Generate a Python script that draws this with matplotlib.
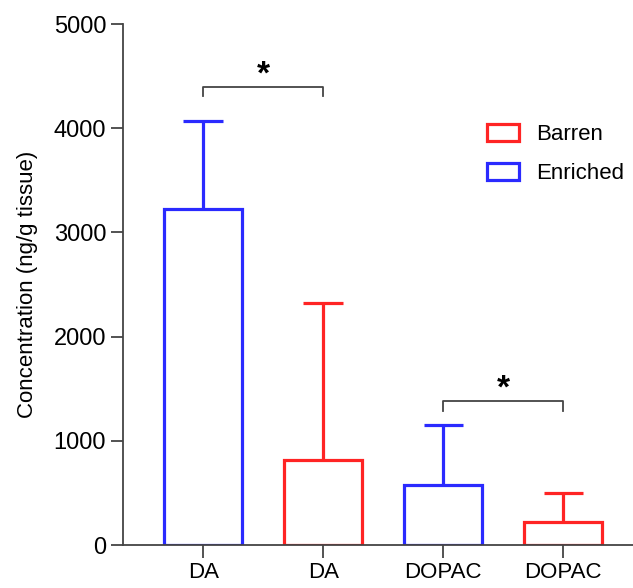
import matplotlib
matplotlib.use('Agg')
from matplotlib import pyplot as plt
from matplotlib.patches import Patch
import numpy as np

# data
labels = ['DA', 'DA', 'DOPAC', 'DOPAC']
groups = ['Enriched', 'Barren', 'Enriched', 'Barren']
means = [3230, 820, 580, 220]
errs = [840, 1500, 570, 280]
colors = {'Barren': '#ff2424', 'Enriched': '#2a2aff'}
# significance brackets: (left bar, right bar, height)
sig = [(0, 1, 4400), (2, 3, 1380)]

plt.rcParams['font.family'] = ['Liberation Sans', 'DejaVu Sans']

fig = plt.figure(figsize=(6.33, 5.88), dpi=100)
ax = fig.add_axes([0.194, 0.073, 0.806, 0.886])

x = np.arange(len(means))
w = 0.65
for i in x:
    c = colors[groups[i]]
    ax.bar(i, means[i], width=w, facecolor='white', edgecolor=c, linewidth=2.3, zorder=2)
    ax.vlines(i, means[i], means[i] + errs[i], color=c, linewidth=2.3, zorder=1)
    ax.hlines(means[i] + errs[i], i - 0.165, i + 0.165, color=c, linewidth=2.3)

for a, b, h in sig:
    ax.plot([a, a, b, b], [h - 90, h, h, h - 90], color='#444444', linewidth=1.3)
    ax.text((a + b) / 2, h + 115, '*', ha='center', va='center', fontsize=24, fontweight='bold')

ax.set_xlim(-0.67, 3.58)
ax.set_ylim(0, 5000)
ax.set_yticks([0, 1000, 2000, 3000, 4000, 5000])
ax.set_xticks(x)
ax.set_xticklabels(labels, fontsize=16)
ax.tick_params(axis='y', labelsize=17, length=9, width=1.3, color='#444444', pad=3)
ax.tick_params(axis='x', length=9, width=1.3, color='#444444', pad=3)
ax.set_ylabel('Concentration (ng/g tissue)', fontsize=16, labelpad=11)
for s in ['top', 'right']:
    ax.spines[s].set_visible(False)
for s in ['left', 'bottom']:
    ax.spines[s].set_color('#444444')
    ax.spines[s].set_linewidth(1.3)

handles = [Patch(facecolor='white', edgecolor=colors[g], linewidth=2.3, label=g)
           for g in ['Barren', 'Enriched']]
ax.legend(handles=handles, loc='upper left', bbox_to_anchor=(0.696, 0.825), frameon=False,
          fontsize=16, handlelength=1.45, handleheight=0.8, labelspacing=0.8,
          handletextpad=0.75, borderaxespad=0)

fig.savefig('out.png', dpi=100)
